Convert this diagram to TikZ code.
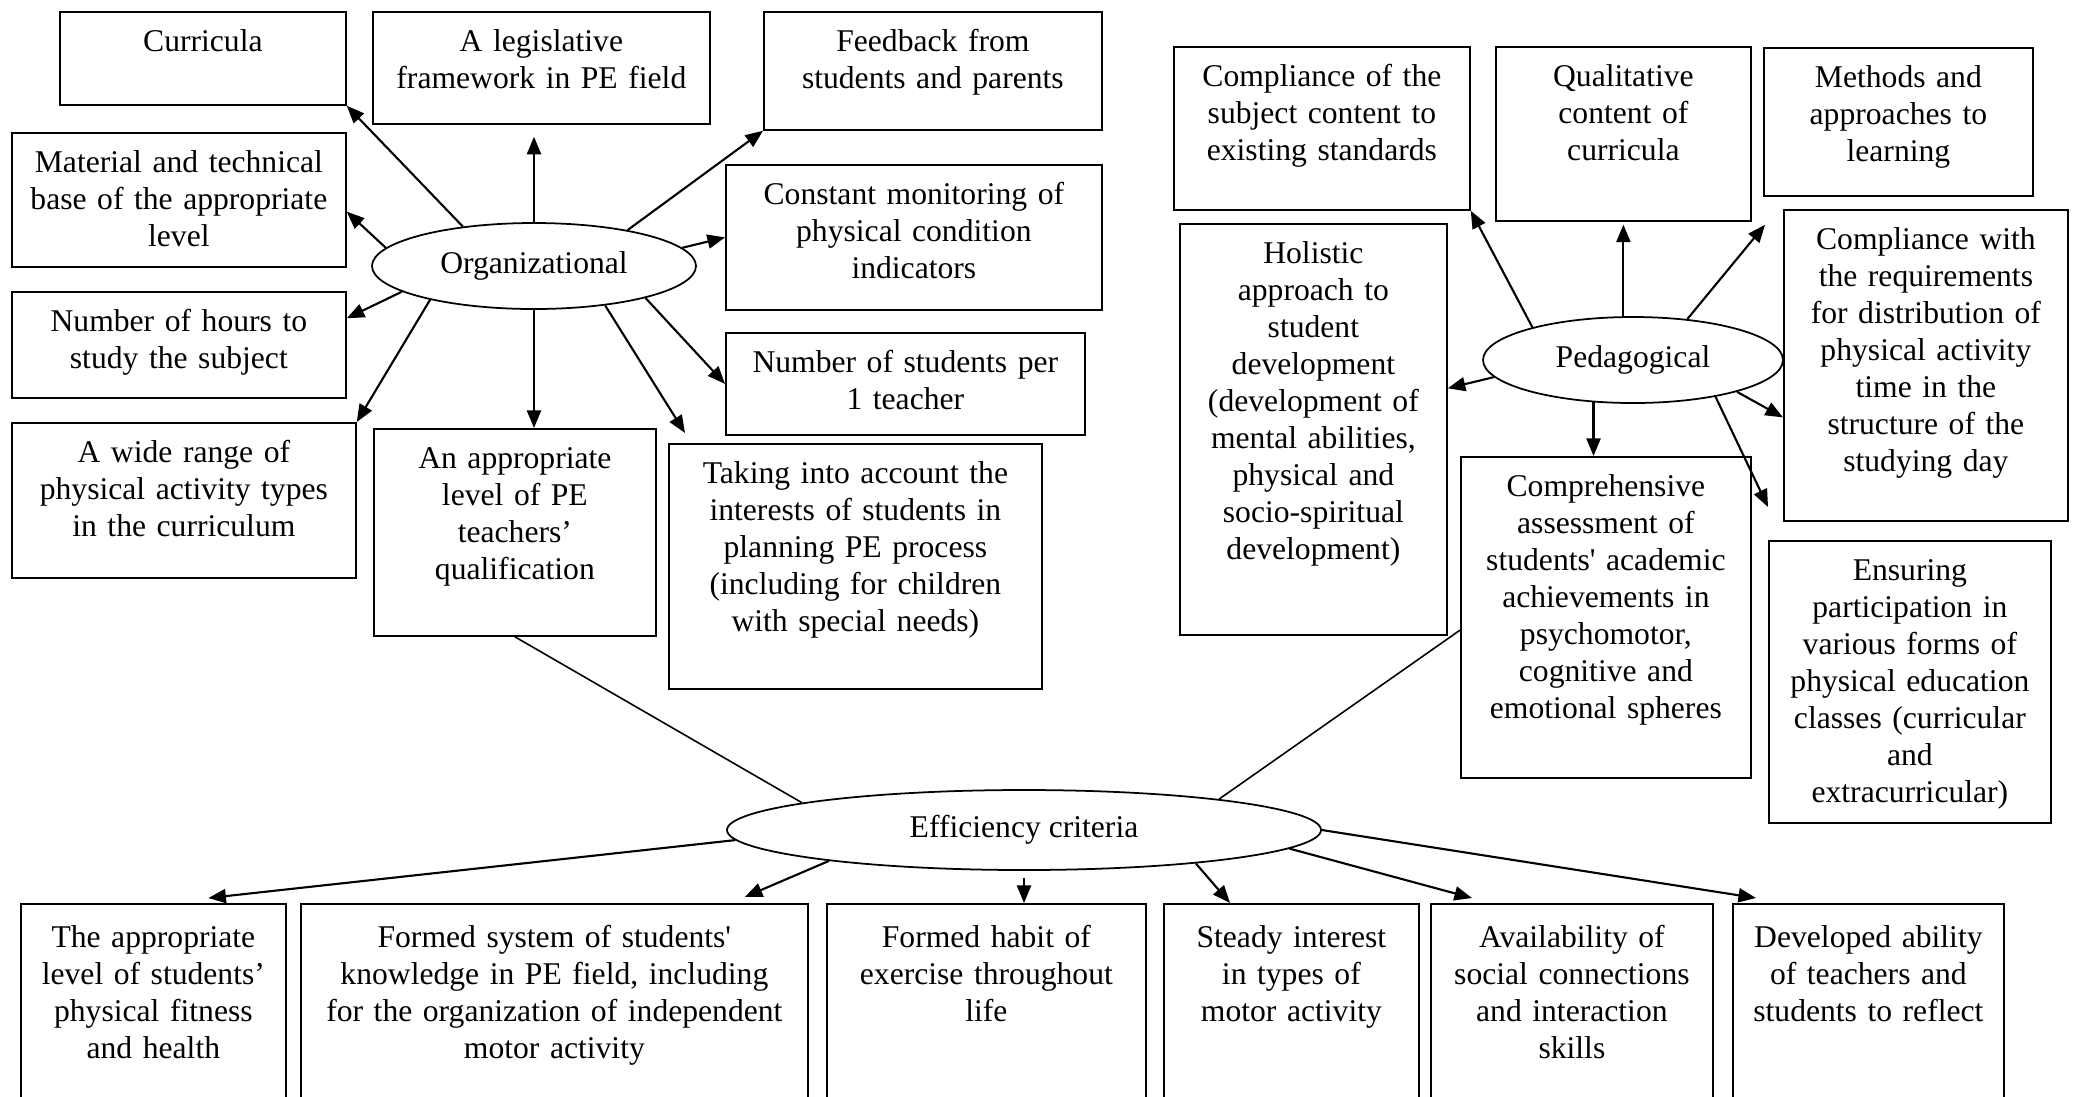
\documentclass[tikz,border=0pt]{standalone}
\usepackage{fontspec}
\setmainfont{Liberation Serif}
\usepackage{tikz}
\usetikzlibrary{shapes.geometric, arrows.meta, calc}
\newcommand{\critfont}{\fontsize{9pt}{10.5pt}\selectfont}

\begin{document}
\begin{tikzpicture}[
  font=\critfont,
  crit/.style={draw, line width=0.5pt, anchor=north west, align=center,
               inner sep=0pt, text height=0.40cm},
  goal/.style={crit, text height=0.44cm, text depth=1.86cm},
  aspect/.style={draw, ellipse, line width=0.5pt, inner sep=0pt},
  arrow/.style={-{Triangle[length=5pt, width=4pt]}, line width=0.6pt},
  link/.style={line width=0.45pt}
]
  \useasboundingbox (0,0) rectangle (20.73,-10.96);
  \clip (0,0) rectangle (20.73,-10.96);

  % organizational side
  \node[aspect, minimum width=3.24cm, minimum height=0.86cm] (org) at (5.34,-2.66) {Organizational};
  \node[crit, text width=2.86cm, text depth=0.53cm] (curr)  at (0.59,-0.11) {Curricula};
  \node[crit, text width=3.37cm, text depth=0.72cm] (legis) at (3.72,-0.11) {A legislative\\framework in PE field};
  \node[crit, text width=3.38cm, text depth=0.78cm] (feed)  at (7.63,-0.11) {Feedback from\\students and parents};
  \node[crit, text width=3.34cm, text depth=0.94cm] (mat)   at (0.11,-1.32) {Material and technical\\base of the appropriate\\level};
  \node[crit, text width=3.76cm, text depth=1.05cm] (mon)   at (7.25,-1.64) {Constant monitoring of\\physical condition\\indicators};
  \node[crit, text width=3.34cm, text depth=0.66cm] (hours) at (0.11,-2.91) {Number of hours to\\study the subject};
  \node[crit, text width=3.59cm, text depth=0.62cm] (ratio) at (7.25,-3.32) {Number of students per\\1 teacher};
  \node[crit, text width=3.44cm, text depth=1.15cm] (range) at (0.11,-4.22) {A wide range of\\physical activity types\\in the curriculum};
  \node[crit, text width=2.82cm, text depth=1.67cm] (qual)  at (3.73,-4.28) {An appropriate\\level of PE\\teachers'\\qualification};
  \node[crit, text width=3.73cm, text depth=2.05cm] (inter) at (6.68,-4.43) {Taking into account the\\interests of students in\\planning PE process\\(including for children\\with special needs)};

  \draw[arrow] (org.151) -- (curr.south east);
  \draw[arrow, shorten >=3.4pt] (org.north) -- (org.north |- legis.south);
  \draw[arrow] (org.21) -- (feed.south west);
  \draw[arrow] (org.173) -- (mat.-4);
  \draw[arrow] (org.7) -- (mon.west);
  \draw[arrow] (org.191) -- (hours.9);
  \draw[arrow] (org.198) -- (range.north east);
  \draw[arrow] (org.south) -- (org.south |- qual.north);
  \draw[arrow] (org.344) -- (ratio.west);
  \draw[arrow] (org.331) -- ($(inter.north west)+(0.17,0.10)$);

  % pedagogical side
  \node[aspect, minimum width=3.00cm, minimum height=0.86cm] (ped) at (16.33,-3.60) {Pedagogical};
  \node[crit, text width=2.96cm, text depth=1.23cm] (std)    at (11.73,-0.46) {Compliance of the\\subject content to\\existing standards};
  \node[crit, text width=2.55cm, text depth=1.34cm] (cont)   at (14.95,-0.46) {Qualitative\\content of\\curricula};
  \node[crit, text width=2.69cm, text depth=1.08cm] (meth)   at (17.63,-0.47) {Methods and\\approaches to\\learning};
  \node[crit, text width=2.67cm, text depth=3.71cm] (holi)   at (11.79,-2.23) {Holistic\\approach to\\student\\development\\(development of\\mental abilities,\\physical and\\socio-spiritual\\development)};
  \node[crit, text width=2.84cm, text depth=2.71cm] (dist)   at (17.83,-2.09) {Compliance with\\the requirements\\for distribution of\\physical activity\\time in the\\structure of the\\studying day};
  \node[crit, text width=2.90cm, text depth=2.81cm] (assess) at (14.60,-4.56) {Comprehensive\\assessment of\\students\textquotesingle{} academic\\achievements in\\psychomotor,\\cognitive and\\emotional spheres};
  \node[crit, text width=2.82cm, text depth=2.42cm] (forms)  at (17.68,-5.40) {Ensuring\\participation in\\various forms of\\physical education\\classes (curricular\\and\\extracurricular)};

  \draw[arrow] (ped.162) -- (std.south east);
  \draw[arrow, shorten >=0.8pt] (cont.south |- ped.north) -- (cont.south);
  \draw[arrow] (ped.37) -- ($(meth.south west)+(0.02,-0.28)$);
  \draw[arrow] (ped.187) -- (holi.17);
  \draw[arrow] (ped.227) -- (ped.227 |- assess.north);
  \draw[arrow] (ped.343) -- (dist.200);
  \draw[arrow] (ped.336) -- ($(forms.north west)+(0,0.33)$);

  % efficiency criteria
  \node[aspect, minimum width=5.94cm, minimum height=0.80cm] (eff) at (10.24,-8.30) {Efficiency criteria};
  \draw[link] (qual.south) -- (eff.173);
  \draw[link] (assess.185) -- (eff.9);

  \node[goal, text width=2.65cm] (b1) at (0.20,-9.03) {The appropriate\\level of students'\\physical fitness\\and health};
  \node[goal, text width=5.07cm] (b2) at (3.00,-9.03) {Formed system of students\textquotesingle\\knowledge in PE field, including\\for the organization of independent\\motor activity};
  \node[goal, text width=3.19cm] (b3) at (8.26,-9.03) {Formed habit of\\exercise throughout\\life};
  \node[goal, text width=2.55cm] (b4) at (11.63,-9.03) {Steady interest\\in types of\\motor activity};
  \node[goal, text width=2.82cm] (b5) at (14.30,-9.03) {Availability of\\social connections\\and interaction\\skills};
  \node[goal, text width=2.71cm] (b6) at (17.32,-9.03) {Developed ability\\of teachers and\\students to reflect};

  \draw[arrow] (eff.182) -- ($(b1.north)+(0.55,0.05)$);
  \draw[arrow] (eff.189) -- ($(b2.north east)+(-0.64,0.06)$);
  \draw[arrow, shorten <=2pt] (eff.south) -- (eff.south |- b3.north);
  \draw[arrow] (eff.349) -- ($(b4.north west)+(0.67,0)$);
  \draw[arrow] (eff.356) -- ($(b5.north west)+(0.42,0.05)$);
  \draw[arrow] (eff.east) -- ($(b6.north west)+(0.24,0.05)$);
\end{tikzpicture}
\end{document}
